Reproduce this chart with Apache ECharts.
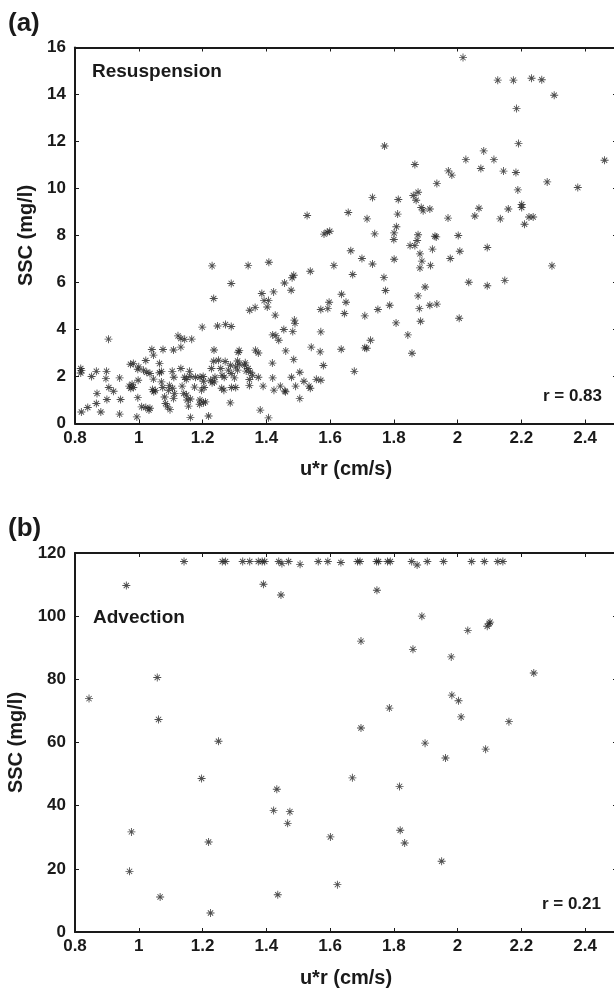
<!DOCTYPE html>
<html>
<head>
<meta charset="utf-8">
<script src="https://cdn.jsdelivr.net/npm/echarts@6/dist/echarts.min.js"></script>
<style>
html,body{margin:0;padding:0;background:#fff;}
#chart{width:614px;height:989px;}
</style>
</head>
<body>
<div id="chart"></div>
<script>
// Panel (a) Resuspension: u*r (cm/s) vs SSC (mg/l)
const resusX = [2.017,2.126,2.175,2.232,2.264,2.303,2.185,2.191,1.771,2.082,2.026,2.114,2.461,
1.866,2.073,1.971,1.982,2.144,2.183,1.935,2.281,2.377,2.189,1.733,1.814,1.861,1.876,1.870,1.886,1.892,1.913,2.067,2.159,2.201,2.201,
1.657,1.812,1.528,2.054,2.224,2.237,1.716,1.970,2.134,1.808,2.210,1.581,1.591,1.599,1.740,1.801,1.876,1.929,1.933,2.002,1.800,1.873,
1.851,1.866,1.921,2.093,1.665,2.007,1.882,1.700,1.801,1.977,1.888,1.733,1.230,1.343,1.408,1.612,1.915,1.882,2.296,1.538,1.671,1.486,
1.481,1.769,1.290,1.457,2.035,2.148,2.093,1.898,1.235,1.478,1.774,1.386,1.423,1.636,1.393,1.407,1.597,1.650,1.876,1.403,1.787,1.913,
1.935,1.365,1.571,1.593,1.750,1.880,1.348,
1.709,2.005,1.807,1.884,1.199,1.247,1.272,1.290,1.428,1.645,0.905,1.123,1.132,1.144,1.166,1.420,1.430,1.439,1.455,1.483,1.488,1.490,
1.571,1.844,1.727,1.709,1.715,1.541,1.635,1.041,1.076,1.109,1.132,1.236,1.312,1.315,1.366,1.375,1.461,1.569,1.857,1.046,1.022,1.065,
0.983,0.974,1.235,1.250,1.271,1.288,1.310,1.332,1.343,1.419,1.486,1.579,1.676,0.818,0.818,0.820,0.867,0.899,0.852,0.897,0.940,0.997,
1.000,1.015,1.025,1.035,1.046,1.065,1.071,1.105,1.110,1.132,1.144,1.149,1.159,1.161,1.178,1.192,1.202,1.203,1.225,1.228,1.230,1.237,
1.239,1.257,1.261,1.268,1.281,1.290,1.300,1.304,1.310,1.315,1.334,1.337,1.350,1.357,1.375,1.347,1.347,1.390,1.420,1.424,1.444,1.458,
1.460,1.479,1.492,1.505,1.518,1.534,1.538,1.557,1.571,1.505,0.921,0.906,0.869,0.900,0.867,0.881,0.943,0.940,0.840,0.820,0.970,0.975,
0.979,0.983,0.998,0.994,0.997,1.009,1.022,1.032,1.035,1.043,1.047,1.052,1.071,1.075,1.084,1.090,1.098,1.081,1.096,1.106,1.093,1.112,
1.109,1.136,1.141,1.150,1.152,1.162,1.156,1.162,1.192,1.191,1.203,1.209,1.175,1.197,1.205,1.219,1.260,1.267,1.287,1.291,1.304,1.381,1.407];
const resusY = [15.57,14.61,14.61,14.69,14.63,13.97,13.40,11.91,11.81,11.60,11.23,11.23,11.20,
11.02,10.85,10.75,10.57,10.74,10.68,10.21,10.28,10.04,9.94,9.62,9.53,9.70,9.84,9.50,9.19,9.05,9.13,9.16,9.13,9.19,9.32,
8.98,8.91,8.85,8.83,8.79,8.79,8.71,8.74,8.71,8.37,8.48,8.06,8.14,8.18,8.07,8.11,8.03,7.97,7.94,8.00,7.83,7.79,
7.57,7.57,7.42,7.49,7.35,7.33,7.22,7.02,6.99,7.02,6.91,6.79,6.71,6.72,6.86,6.72,6.72,6.62,6.71,6.48,6.34,6.31,
6.20,6.21,5.96,5.98,6.01,6.09,5.86,5.81,5.32,5.67,5.66,5.53,5.60,5.50,5.23,5.23,5.16,5.16,5.43,4.96,5.03,5.03,
5.08,4.94,4.85,4.89,4.85,4.89,4.82,
4.58,4.48,4.28,4.35,4.10,4.15,4.21,4.13,4.61,4.68,3.59,3.73,3.62,3.58,3.59,3.77,3.74,3.54,4.00,3.91,4.40,4.26,
3.90,3.77,3.54,3.22,3.20,3.25,3.16,3.15,3.15,3.13,3.25,3.13,3.03,3.11,3.12,3.00,3.09,3.05,2.99,2.91,2.68,2.55,
2.55,2.52,2.65,2.69,2.64,2.48,2.66,2.48,2.34,2.57,2.72,2.47,2.22,2.34,2.15,2.25,2.22,2.22,2.00,1.91,1.94,2.31,
2.41,2.27,2.18,2.13,1.89,2.16,2.21,2.22,1.97,2.34,1.97,1.87,2.22,2.00,1.97,1.97,2.00,1.80,1.84,2.34,1.73,1.77,
1.97,2.34,2.05,1.97,2.27,2.13,1.94,2.41,2.27,2.52,2.58,2.23,2.18,2.05,1.97,1.87,1.62,1.59,1.94,1.42,1.59,1.39,
1.35,1.97,1.59,2.18,1.80,1.59,1.50,1.88,1.84,1.06,1.37,1.53,1.28,1.02,0.85,0.49,1.02,0.40,0.68,0.49,1.59,1.50,
1.67,1.53,1.84,0.28,1.10,0.71,0.68,0.57,0.65,1.45,1.35,1.40,1.77,1.53,0.85,0.71,0.59,1.13,1.62,1.50,1.40,1.28,
1.06,1.59,1.28,1.21,1.00,1.04,0.74,0.26,1.00,0.82,0.88,0.92,1.55,1.42,1.53,0.32,1.50,1.42,0.88,1.53,1.53,0.57,0.24];

// Panel (b) Advection
const advX = [1.142,1.262,1.272,1.326,1.348,1.375,1.387,1.395,1.439,1.449,1.470,1.506,1.563,1.593,1.634,1.686,1.694,1.746,1.752,1.780,
1.789,1.856,1.873,1.905,1.956,2.044,2.084,2.126,2.142,
0.961,1.391,1.446,1.747,1.888,2.032,2.093,2.099,2.102,1.697,1.860,1.980,
2.239,1.058,0.844,1.982,2.003,2.011,1.786,1.062,2.161,1.697,1.250,1.898,2.088,1.962,1.197,1.670,1.433,1.818,1.423,1.474,1.467,
0.977,1.820,1.219,1.601,1.834,1.950,0.971,1.623,1.067,1.436,1.225];
const advY = [117.3,117.3,117.3,117.3,117.3,117.3,117.3,117.3,117.3,116.7,117.3,116.4,117.3,117.3,117.0,117.3,117.3,117.3,117.3,117.3,
117.3,117.3,116.2,117.3,117.3,117.3,117.3,117.3,117.3,
109.7,110.1,106.7,108.2,100.0,95.5,96.8,97.7,98.1,92.1,89.5,87.1,
82.0,80.6,73.9,75.0,73.2,68.1,70.9,67.3,66.6,64.6,60.4,59.8,57.9,55.1,48.6,48.8,45.2,46.1,38.5,38.1,34.4,
31.7,32.2,28.5,30.1,28.2,22.4,19.2,15.0,11.1,11.8,6.0];

const xTicksMin = 0.8, xTicksMax = 2.5, xStep = 0.2;
const panelLabels = ['(a)', '(b)'];
const panelNames = ['Resuspension', 'Advection'];
const rValues = ['r = 0.83', 'r = 0.21'];
const yMaxes = [16, 120];
const ySteps = [2, 20];
const xTitle = 'u*r (cm/s)';
const yTitle = 'SSC (mg/l)';

const FONT = '"Liberation Sans", Arial, Helvetica, sans-serif';
const INK = '#1a1a1a';
const STAR = 'path://M8.9 0 L11.1 0 L11.1 20 L8.9 20 Z M0 8.9 L20 8.9 L20 11.1 L0 11.1 Z M2.6 4.2 L4.2 2.6 L17.4 15.8 L15.8 17.4 Z M15.8 2.6 L17.4 4.2 L4.2 17.4 L2.6 15.8 Z';

const grids = [
  {left: 75, top: 47.5, width: 542, height: 376, outerBoundsMode: 'none', containLabel: false},
  {left: 75, top: 553, width: 542, height: 379, outerBoundsMode: 'none', containLabel: false}
];

function xFmt(v){
  const k = (v - xTicksMin) / xStep;
  if (Math.abs(k - Math.round(k)) > 1e-6) return '';
  return String(+(+v).toFixed(1));
}

const axisLine = {onZero: false, lineStyle: {color: INK, width: 2}};
const axisTick = {inside: true, length: 4, lineStyle: {color: INK, width: 1}};
const lblStyle = {color: INK, fontFamily: FONT, fontWeight: 'bold', fontSize: 17};

const xAxes = [], yAxes = [], series = [];
[0,1].forEach(i => {
  xAxes.push({gridIndex: i, type: 'value', min: xTicksMin, max: xTicksMax, interval: xStep, position: 'bottom',
    axisLine, axisTick, splitLine: {show: false},
    axisLabel: Object.assign({margin: 6, formatter: xFmt, showMaxLabel: false}, lblStyle),
    name: xTitle, nameLocation: 'middle', nameGap: 36,
    nameTextStyle: {color: INK, fontFamily: FONT, fontWeight: 'bold', fontSize: 20}});
  xAxes.push({gridIndex: i, type: 'value', min: xTicksMin, max: xTicksMax, interval: xStep, position: 'top',
    axisLine, axisTick, splitLine: {show: false}, axisLabel: {show: false}});
  yAxes.push({gridIndex: i, type: 'value', min: 0, max: yMaxes[i], interval: ySteps[i], position: 'left',
    axisLine, axisTick, splitLine: {show: false},
    axisLabel: Object.assign({margin: 9}, lblStyle),
    name: yTitle, nameLocation: 'middle', nameGap: 38, nameRotate: 90,
    nameTextStyle: {color: INK, fontFamily: FONT, fontWeight: 'bold', fontSize: 20}});
  yAxes.push({gridIndex: i, type: 'value', min: 0, max: yMaxes[i], interval: ySteps[i], position: 'right',
    axisLine, axisTick, splitLine: {show: false}, axisLabel: {show: false}});
});

const xs = [resusX, advX], ys = [resusY, advY];
[0,1].forEach(i => {
  series.push({type: 'scatter', xAxisIndex: i*2, yAxisIndex: i*2,
    data: xs[i].map((x, k) => [x, ys[i][k]]),
    symbol: STAR, symbolSize: 8, itemStyle: {color: '#222'}, silent: true});
});

const textPos = [
  {lab: [8, 24], name: [92, 71.5], r: [602, 396]},
  {lab: [8, 529], name: [93, 618], r: [601, 904]}
];
const graphics = [];
[0,1].forEach(i => {
  const p = textPos[i];
  graphics.push({type: 'text', x: p.lab[0], y: p.lab[1], style: {text: panelLabels[i], fill: INK,
    font: 'bold 26px ' + FONT, verticalAlign: 'middle', align: 'left'}});
  graphics.push({type: 'text', x: p.name[0], y: p.name[1], style: {text: panelNames[i], fill: INK,
    font: 'bold 19px ' + FONT, verticalAlign: 'middle', align: 'left'}});
  graphics.push({type: 'text', x: p.r[0], y: p.r[1], style: {text: rValues[i], fill: INK,
    font: 'bold 17px ' + FONT, verticalAlign: 'middle', align: 'right'}});
});

const chart = echarts.init(document.getElementById('chart'), null, {renderer: 'canvas'});
chart.setOption({
  animation: false,
  backgroundColor: '#fff',
  grid: grids,
  xAxis: xAxes,
  yAxis: yAxes,
  series,
  graphic: graphics
});
</script>
</body>
</html>
